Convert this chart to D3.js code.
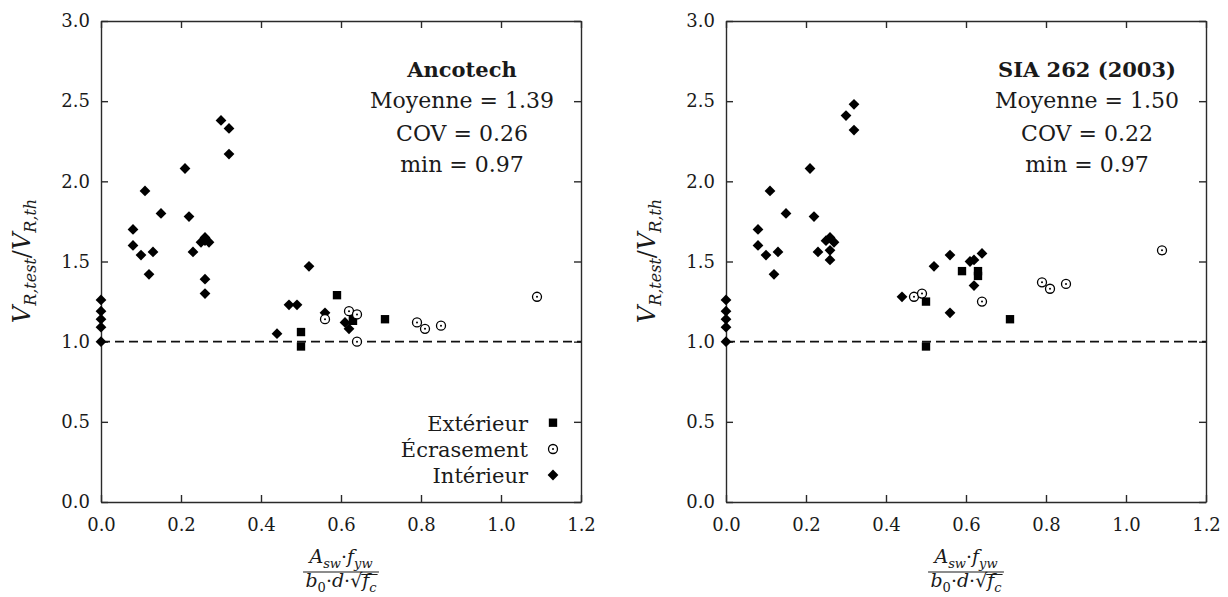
<!DOCTYPE html>
<html>
<head>
<meta charset="utf-8">
<script src="https://cdn.jsdelivr.net/npm/d3@7"></script>
<style>
body { margin: 0; background: #fff; }
svg text { font-family: "DejaVu Serif", serif; fill: #1a1a1a; }
</style>
</head>
<body>
<svg id="chart" width="1228" height="597"></svg>
<script>
// axis ticks
var xTicks = [0, 0.2, 0.4, 0.6, 0.8, 1.0, 1.2],
    yTicks = [0, 0.5, 1.0, 1.5, 2.0, 2.5, 3.0];

// legend
var legendLabels = ["Extérieur", "Écrasement", "Intérieur"];

// ---- Ancotech : [x, y] ----
var ancoExt = [[0.50, 1.06], [0.50, 0.97], [0.59, 1.29], [0.63, 1.16], [0.63, 1.13], [0.71, 1.14]];
var ancoEcr = [[0.56, 1.14], [0.62, 1.19], [0.64, 1.17], [0.64, 1.00], [0.79, 1.12], [0.81, 1.08], [0.85, 1.10], [1.09, 1.28]];
var ancoInt = [[0, 1.26], [0, 1.19], [0, 1.14], [0, 1.09], [0, 1.00],
  [0.08, 1.70], [0.08, 1.60], [0.10, 1.54], [0.11, 1.94], [0.12, 1.42], [0.13, 1.56], [0.15, 1.80],
  [0.21, 2.08], [0.22, 1.78], [0.23, 1.56], [0.25, 1.62], [0.26, 1.65], [0.26, 1.63], [0.27, 1.62],
  [0.26, 1.39], [0.26, 1.30], [0.30, 2.38], [0.32, 2.33], [0.32, 2.17],
  [0.44, 1.05], [0.47, 1.23], [0.49, 1.23], [0.52, 1.47], [0.56, 1.18], [0.61, 1.12], [0.62, 1.08]];
var ancoStats = ["Moyenne = 1.39", "COV = 0.26", "min = 0.97"];

// ---- SIA 262 (2003) : [x, y] ----
var siaExt = [[0.50, 1.25], [0.50, 0.97], [0.59, 1.44], [0.63, 1.44], [0.63, 1.41], [0.71, 1.14]];
var siaEcr = [[0.47, 1.28], [0.49, 1.30], [0.64, 1.25], [0.79, 1.37], [0.81, 1.33], [0.85, 1.36], [1.09, 1.57]];
var siaInt = [[0, 1.26], [0, 1.19], [0, 1.14], [0, 1.09], [0, 1.00],
  [0.08, 1.70], [0.08, 1.60], [0.10, 1.54], [0.11, 1.94], [0.12, 1.42], [0.13, 1.56], [0.15, 1.80],
  [0.21, 2.08], [0.22, 1.78], [0.23, 1.56], [0.25, 1.63], [0.26, 1.65], [0.27, 1.62],
  [0.26, 1.57], [0.26, 1.51], [0.30, 2.41], [0.32, 2.48], [0.32, 2.32],
  [0.44, 1.28], [0.52, 1.47], [0.56, 1.54], [0.56, 1.18], [0.61, 1.50], [0.62, 1.51],
  [0.64, 1.55], [0.62, 1.35]];
var siaStats = ["Moyenne = 1.50", "COV = 0.22", "min = 0.97"];

var svg = d3.select("#chart");
var axisColor = "#2a2a2a";

var diamond = d3.symbol().type(d3.symbolSquare).size(58)();
var square = d3.symbol().type(d3.symbolSquare).size(70)();

// append math text made of pieces {t, it, sub}
function mathText(sel, parts, size) {
  var subSize = Math.round(size * 0.68), shift = Math.round(size * 0.25);
  var down = false;
  parts.forEach(function(p) {
    var ts = sel.append("tspan").text(p.t)
      .style("font-style", p.it ? "italic" : "normal")
      .style("font-size", (p.sub ? subSize : size) + "px");
    if (p.sub && !down) { ts.attr("dy", shift); down = true; }
    else if (!p.sub && down) { ts.attr("dy", -shift); down = false; }
  });
}

function drawPanel(left, title, stats, ext, ecr, intr, showLegend) {
  var x = d3.scaleLinear().domain([0, 1.2]).range([left, left + 480]);
  var y = d3.scaleLinear().domain([0, 3]).range([502, 21]);
  var g = svg.append("g");

  var fmt = d3.format(".1f");
  g.append("g").attr("transform", "translate(0,502)")
    .call(d3.axisBottom(x).tickValues(xTicks).tickSize(-7).tickSizeOuter(0).tickPadding(16).tickFormat(fmt));
  g.append("g").attr("transform", "translate(" + left + ",0)")
    .call(d3.axisLeft(y).tickValues(yTicks).tickSize(-7).tickSizeOuter(0).tickPadding(11).tickFormat(fmt));
  g.append("g").attr("transform", "translate(0,21)")
    .call(d3.axisTop(x).tickValues(xTicks).tickSize(-7).tickSizeOuter(0).tickFormat(""));
  g.append("g").attr("transform", "translate(" + (left + 480) + ",0)")
    .call(d3.axisRight(y).tickValues(yTicks).tickSize(-7).tickSizeOuter(0).tickFormat(""));
  g.selectAll(".domain, .tick line").attr("stroke", axisColor).attr("stroke-width", 1.4);
  g.selectAll(".tick text").style("font-size", "18px").attr("fill", "#1a1a1a");

  // reference line
  g.append("line")
    .attr("x1", x(0)).attr("x2", x(1.2)).attr("y1", y(1)).attr("y2", y(1))
    .attr("stroke", "#111").attr("stroke-width", 1.6).attr("stroke-dasharray", "9,5");

  // points
  g.selectAll(".int").data(intr).enter().append("path")
    .attr("d", diamond).attr("fill", "#000")
    .attr("transform", function(d) { return "translate(" + x(d[0]) + "," + y(d[1]) + ") rotate(45)"; });
  g.selectAll(".ext").data(ext).enter().append("path")
    .attr("d", square).attr("fill", "#000")
    .attr("transform", function(d) { return "translate(" + x(d[0]) + "," + y(d[1]) + ")"; });
  var c = g.selectAll(".ecr").data(ecr).enter().append("g")
    .attr("transform", function(d) { return "translate(" + x(d[0]) + "," + y(d[1]) + ")"; });
  c.append("circle").attr("r", 4.5).attr("fill", "#fff").attr("stroke", "#000").attr("stroke-width", 1.3);
  c.append("circle").attr("r", 1).attr("fill", "#000");

  // statistics block
  var cx = left + 361;
  g.append("text").attr("x", cx).attr("y", 77).attr("text-anchor", "middle")
    .style("font-size", "21px").style("font-weight", "bold").text(title);
  stats.forEach(function(s, i) {
    g.append("text").attr("x", cx).attr("y", [108, 141, 172][i]).attr("text-anchor", "middle")
      .style("font-size", "22px").text(s);
  });

  // y label
  var yl = g.append("text").attr("text-anchor", "middle")
    .attr("transform", "translate(" + (left - 71) + ",261) rotate(-90)");
  mathText(yl, [{t: "V", it: 1}, {t: "R,test", it: 1, sub: 1}, {t: "/", it: 0}, {t: "V", it: 1}, {t: "R,th", it: 1, sub: 1}], 24);

  // x label: fraction
  var fx = left + 240;
  var num = g.append("text").attr("x", fx).attr("y", 563).attr("text-anchor", "middle");
  mathText(num, [{t: "A", it: 1}, {t: "sw", it: 1, sub: 1}, {t: "·", it: 0}, {t: "f", it: 1}, {t: "yw", it: 1, sub: 1}], 19);
  var den = g.append("text").attr("x", fx).attr("y", 587).attr("text-anchor", "middle");
  mathText(den, [{t: "b", it: 1}, {t: "0", it: 0, sub: 1}, {t: "·", it: 0}, {t: "d", it: 1}, {t: "·√", it: 0}, {t: "f", it: 1}, {t: "c", it: 1, sub: 1}], 19);
  var w = Math.max(num.node().getBBox().width, den.node().getBBox().width) + 4;
  g.append("line").attr("x1", fx - w / 2).attr("x2", fx + w / 2).attr("y1", 572).attr("y2", 572)
    .attr("stroke", "#1a1a1a").attr("stroke-width", 1.1);
  // overline of the root
  var dn = den.node(), n = dn.getNumberOfChars();
  var sq = dn.getExtentOfChar(n - 3), last = dn.getExtentOfChar(n - 1);
  g.append("line").attr("x1", sq.x + sq.width - 1).attr("x2", last.x + last.width + 1)
    .attr("y1", 574.5).attr("y2", 574.5).attr("stroke", "#1a1a1a").attr("stroke-width", 1);

  if (showLegend) {
    var rows = [422.7, 449, 475];
    legendLabels.forEach(function(l, i) {
      g.append("text").attr("x", left + 427).attr("y", rows[i] + 8).attr("text-anchor", "end")
        .style("font-size", "21px").text(l);
    });
    var lx = left + 452;
    g.append("path").attr("d", square).attr("fill", "#000")
      .attr("transform", "translate(" + lx + "," + rows[0] + ")");
    g.append("circle").attr("cx", lx).attr("cy", rows[1]).attr("r", 4.5)
      .attr("fill", "#fff").attr("stroke", "#000").attr("stroke-width", 1.3);
    g.append("circle").attr("cx", lx).attr("cy", rows[1]).attr("r", 1).attr("fill", "#000");
    g.append("path").attr("d", diamond).attr("fill", "#000")
      .attr("transform", "translate(" + lx + "," + rows[2] + ") rotate(45)");
  }
}

drawPanel(101, "Ancotech", ancoStats, ancoExt, ancoEcr, ancoInt, true);
drawPanel(726, "SIA 262 (2003)", siaStats, siaExt, siaEcr, siaInt, false);
</script>
</body>
</html>
